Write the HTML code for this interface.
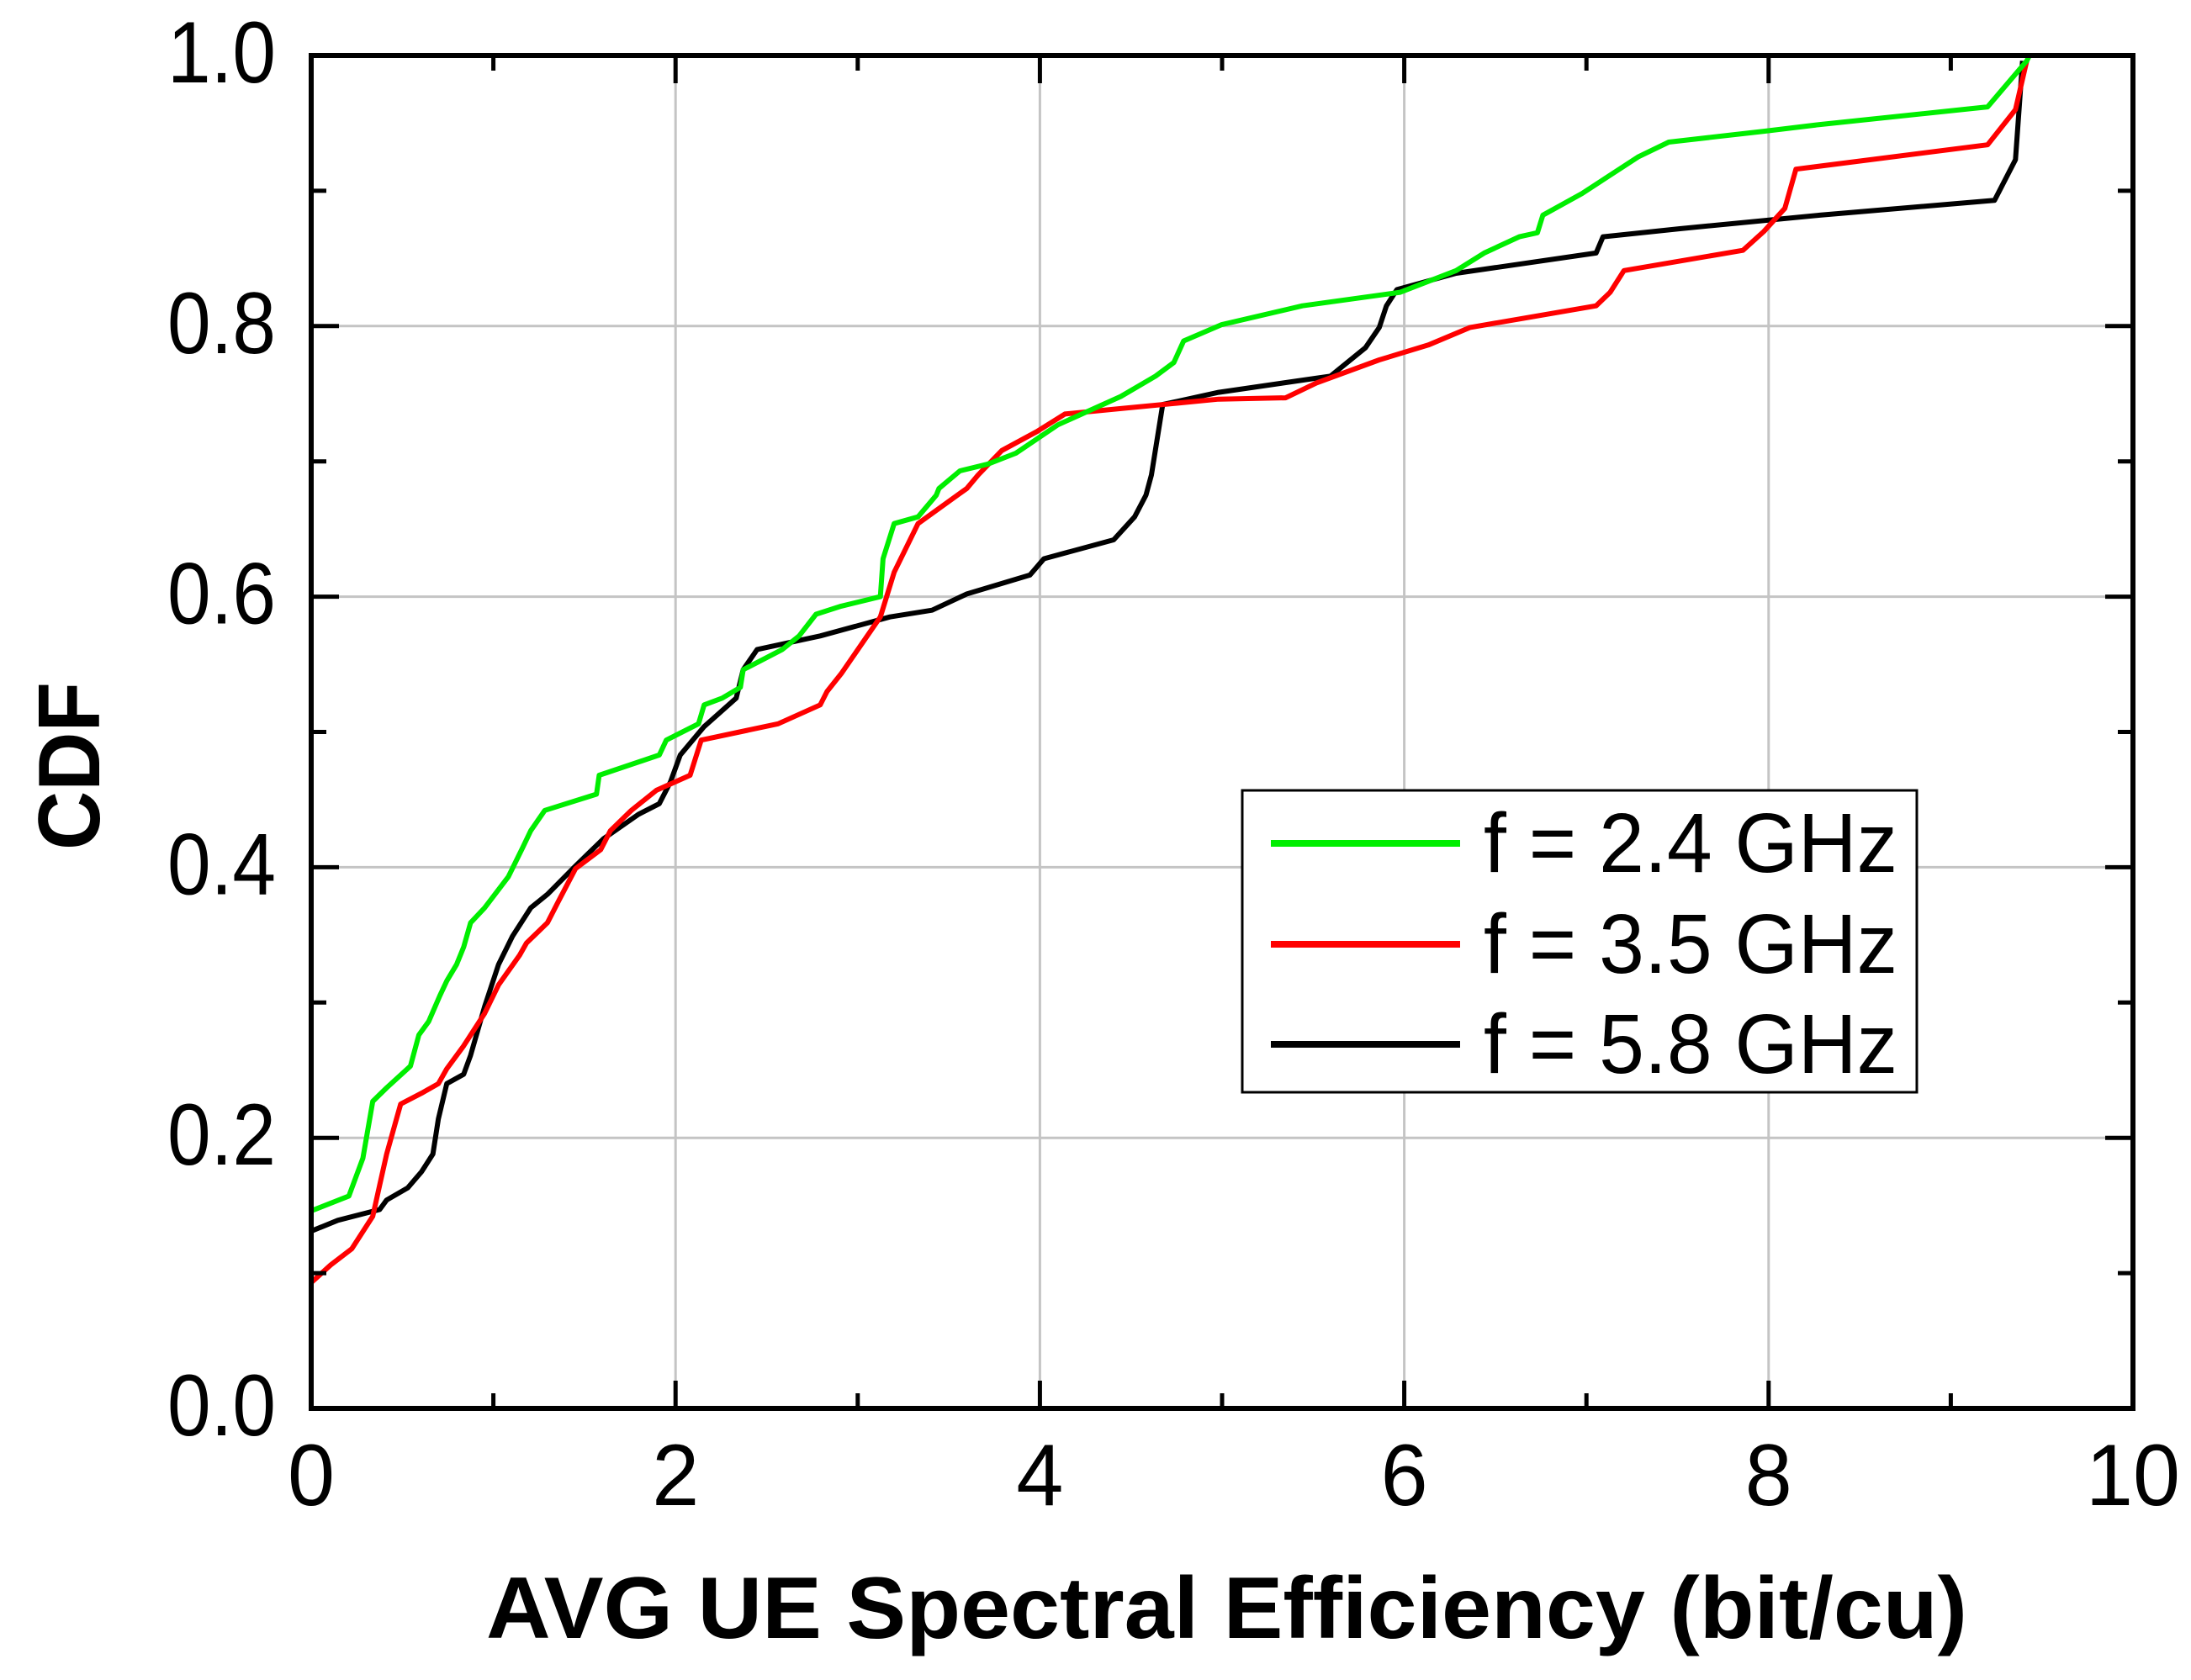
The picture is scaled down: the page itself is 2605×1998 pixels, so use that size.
<!DOCTYPE html>
<html><head><meta charset="utf-8"><style>
html,body{margin:0;padding:0;background:#fff;}
svg{display:block;font-family:"Liberation Sans",Arial,sans-serif;}
</style></head><body>
<svg id="chart" width="2605" height="1998" viewBox="0 0 2605 1998" xmlns="http://www.w3.org/2000/svg">
<rect width="2605" height="1998" fill="#fff"/>
<g id="grid"></g>
<g id="series"></g>
<g id="axes"></g>
<text x="578" y="1948" font-size="104" font-weight="bold" textLength="1761" lengthAdjust="spacingAndGlyphs">AVG UE Spectral Efficiency (bit/cu)</text>
<text transform="translate(118,911) rotate(-90)" text-anchor="middle" font-size="104" font-weight="bold" textLength="200" lengthAdjust="spacingAndGlyphs">CDF</text>
<g id="legend">
<rect x="1477" y="940" width="802" height="359" fill="#fff" stroke="#000" stroke-width="3"/>
</g>
</svg>
<script>
const xTicks=[0,2,4,6,8,10];
const yTicks=[0,0.2,0.4,0.6,0.8,1.0];
const xTickLabels=["0","2","4","6","8","10"];
const yTickLabels=["0.0","0.2","0.4","0.6","0.8","1.0"];
const seriesNames=["f = 2.4 GHz","f = 3.5 GHz","f = 5.8 GHz"];
const seriesColors=["#00ee00","#ff0000","#000000"];
const greenX=[0,0,0.207,0.284,0.338,0.414,0.545,0.591,0.645,0.706,0.744,0.798,0.837,0.875,0.952,1.082,1.159,1.205,1.282,1.566,1.581,1.911,1.949,2.126,2.157,2.256,2.356,2.371,2.586,2.678,2.771,2.909,3.124,3.139,3.200,3.331,3.431,3.446,3.561,3.714,3.868,4.098,4.444,4.635,4.735,4.789,4.996,5.441,5.978,6.285,6.439,6.631,6.731,6.761,6.976,7.283,7.452,7.974,8.281,9.202,9.417,9.432];
const greenY=[0,0.146,0.157,0.185,0.227,0.237,0.253,0.276,0.286,0.305,0.316,0.328,0.341,0.359,0.370,0.393,0.414,0.427,0.442,0.454,0.468,0.483,0.494,0.506,0.520,0.525,0.533,0.546,0.561,0.571,0.587,0.593,0.600,0.628,0.654,0.659,0.675,0.680,0.693,0.698,0.706,0.727,0.748,0.763,0.773,0.789,0.801,0.815,0.825,0.841,0.854,0.866,0.869,0.882,0.898,0.925,0.936,0.944,0.949,0.962,0.996,1.0];
const redX=[0,0.107,0.223,0.338,0.376,0.414,0.468,0.491,0.606,0.698,0.744,0.837,0.952,1.028,1.144,1.182,1.297,1.358,1.451,1.589,1.642,1.757,1.896,2.080,2.141,2.563,2.794,2.832,2.909,3.001,3.124,3.200,3.331,3.599,3.661,3.791,3.983,4.137,4.444,4.981,5.349,5.518,5.863,6.132,6.362,7.053,7.130,7.206,7.859,7.974,8.089,8.150,9.202,9.355,9.417];
const redY=[0.093,0.106,0.118,0.142,0.165,0.188,0.214,0.225,0.233,0.240,0.251,0.268,0.292,0.313,0.335,0.344,0.359,0.375,0.399,0.413,0.427,0.442,0.457,0.468,0.494,0.506,0.520,0.530,0.543,0.561,0.585,0.618,0.654,0.680,0.690,0.708,0.722,0.735,0.739,0.746,0.747,0.758,0.775,0.786,0.799,0.815,0.825,0.841,0.856,0.870,0.887,0.916,0.934,0.960,0.996];
const blackX=[0,0.146,0.376,0.414,0.530,0.606,0.668,0.698,0.744,0.837,0.875,0.952,1.028,1.105,1.205,1.297,1.451,1.604,1.796,1.911,1.972,2.026,2.157,2.333,2.371,2.448,2.794,3.177,3.408,3.599,3.945,4.022,4.405,4.520,4.582,4.612,4.674,4.981,5.595,5.787,5.863,5.902,5.960,6.285,7.053,7.091,7.513,8.281,9.240,9.355,9.394];
const blackY=[0.131,0.139,0.147,0.154,0.163,0.175,0.188,0.214,0.240,0.247,0.261,0.297,0.328,0.349,0.370,0.380,0.401,0.421,0.439,0.447,0.463,0.483,0.504,0.525,0.546,0.561,0.571,0.585,0.590,0.602,0.616,0.628,0.642,0.659,0.675,0.690,0.742,0.751,0.763,0.784,0.799,0.815,0.827,0.839,0.854,0.866,0.872,0.882,0.893,0.923,0.996];

const L=370,R=2536,T=66,B=1675;
const xMin=0,xMax=10,yMin=0,yMax=1;
function sx(v){return L+(v-xMin)/(xMax-xMin)*(R-L);}
function sy(v){return B-(v-yMin)/(yMax-yMin)*(B-T);}
const NS="http://www.w3.org/2000/svg";
function mk(tag,attrs,parent){const e=document.createElementNS(NS,tag);for(const k in attrs)e.setAttribute(k,attrs[k]);parent.appendChild(e);return e;}
const grid=document.getElementById('grid'),axes=document.getElementById('axes'),ser=document.getElementById('series'),leg=document.getElementById('legend');

xTicks.forEach((v,i)=>{
  if(i>0&&i<xTicks.length-1){const g=mk('line',{x1:sx(v),x2:sx(v),y1:T,y2:B,stroke:'#c4c4c4','stroke-width':3},grid);
  
  }
  const t=mk('text',{x:sx(v),y:1790,'font-size':104,'text-anchor':'middle',textLength:xTickLabels[i].length*56,lengthAdjust:'spacingAndGlyphs'},axes);
  t.textContent=xTickLabels[i];
  
  
});
yTicks.forEach((v,i)=>{
  if(i>0&&i<yTicks.length-1){const g=mk('line',{x1:L,x2:R,y1:sy(v),y2:sy(v),stroke:'#c4c4c4','stroke-width':3},grid);
  
  }
  const t=mk('text',{x:328,y:sy(v)+32,'font-size':104,'text-anchor':'end',textLength:129,lengthAdjust:'spacingAndGlyphs'},axes);
  t.textContent=yTickLabels[i];
  
  
});
// ticks
for(let v=0;v<=10;v+=1){const len=(v%2===0)?33:18;
  mk('line',{x1:sx(v),x2:sx(v),y1:B,y2:B-len,stroke:'#000','stroke-width':5},axes);
  mk('line',{x1:sx(v),x2:sx(v),y1:T,y2:T+len,stroke:'#000','stroke-width':5},axes);}
for(let k=0;k<=10;k++){const v=k/10;const len=(k%2===0)?33:18;
  mk('line',{x1:L,x2:L+len,y1:sy(v),y2:sy(v),stroke:'#000','stroke-width':5},axes);
  mk('line',{x1:R,x2:R-len,y1:sy(v),y2:sy(v),stroke:'#000','stroke-width':5},axes);}
const frame=mk('rect',{x:L,y:T,width:R-L,height:B-T,fill:'none',stroke:'#000','stroke-width':6},axes);



const allX=[greenX,redX,blackX],allY=[greenY,redY,blackY];
const lineNames=['line-2-4-ghz','line-3-5-ghz','line-5-8-ghz'];
[2,1,0].forEach(s=>{
  const pts=allX[s].map((x,i)=>sx(x).toFixed(1)+','+sy(allY[s][i]).toFixed(1)).join(' ');
  const p=mk('polyline',{points:pts,fill:'none',stroke:seriesColors[s],'stroke-width':6,'stroke-linejoin':'round'},ser);
  
  
});
const legY=[1003,1123,1242];
seriesNames.forEach((n,i)=>{
  const l=mk('line',{x1:1511,x2:1736,y1:legY[i],y2:legY[i],stroke:seriesColors[i],'stroke-width':8},leg);
  
  
  const t=mk('text',{x:1764,y:legY[i]+34,'font-size':100,textLength:492,lengthAdjust:'spacingAndGlyphs'},leg);
  t.textContent=n;
  
  
});
</script>
</body></html>
